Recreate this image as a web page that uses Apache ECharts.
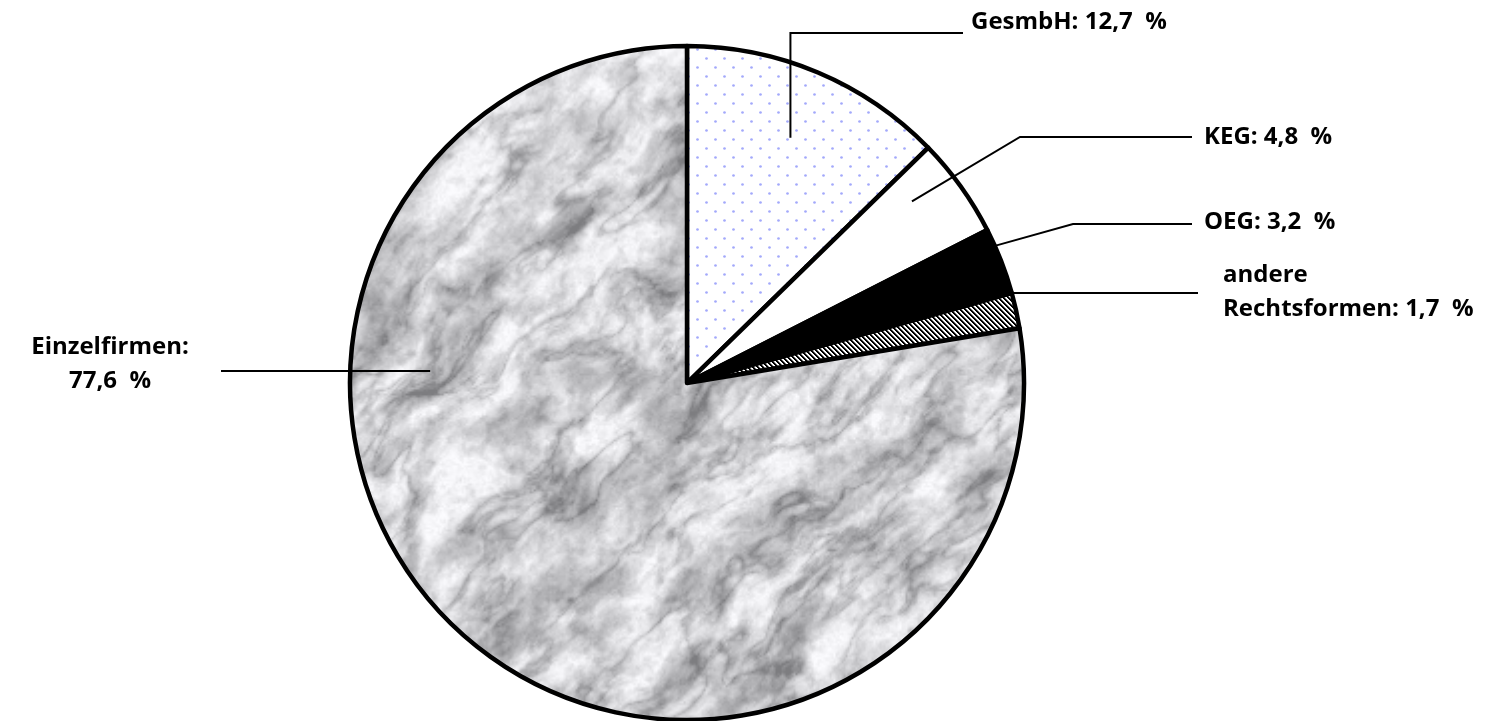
<!DOCTYPE html>
<html>
<head>
<meta charset="utf-8">
<script src="https://cdn.jsdelivr.net/npm/echarts@6/dist/echarts.min.js"></script>
<style>
  html, body { margin: 0; padding: 0; background: #fff; }
  #chart { width: 1499px; height: 721px; }
</style>
</head>
<body>
<div id="chart"></div>
<script>
// Unternehmen nach Rechtsform, Anteile in Prozent
const categories = ['GesmbH', 'KEG', 'OEG', 'andere\nRechtsformen', 'Einzelfirmen'];
const shares = [12.7, 4.8, 3.2, 1.7, 77.6];
const labelSeparators = [' ', ' ', ' ', ' ', '\n'];

// Pie geometry in pixels
const PIE_CENTER = [687, 383];
const PIE_RADIUS = 337;

// Label placement: t = position across the slice (0..1), f = radius fraction of the leader start
const labelPlacement = [
  { anchor: [971, 22], align: 'left', t: 0.5, f: 0.79, path: { type: 'elbow', y: 33, endX: 963 } },
  { anchor: [1204, 137], align: 'left', t: 0.31, f: 0.858, path: { type: 'bend', bend: [1020, 137], endX: 1192 } },
  { anchor: [1204, 222], align: 'left', t: 0.26, f: 1.0, path: { type: 'bend', bend: [1073, 224], endX: 1192 } },
  { anchor: [1223, 292], align: 'left', t: 0.0, f: 1.0, path: { type: 'flat', endX: 1198 } },
  { anchor: [110, 364], align: 'center', t: 0.6875, f: 0.763, path: { type: 'flat', endX: 221 } }
];

// ---------- fill textures ----------
function makeCanvas(w, h) {
  const c = document.createElement('canvas');
  c.width = w; c.height = h;
  return c;
}

function dotTexture() {
  const c = makeCanvas(18, 18);
  const g = c.getContext('2d');
  g.fillStyle = '#ffffff';
  g.fillRect(0, 0, 18, 18);
  g.fillStyle = '#a3a9fb';
  [[4.5, 4.5], [13.5, 13.5]].forEach(function (p) {
    g.beginPath();
    g.arc(p[0], p[1], 1.35, 0, Math.PI * 2);
    g.fill();
  });
  return c;
}

function stripeTexture() {
  const s = 10;
  const c = makeCanvas(s, s);
  const g = c.getContext('2d');
  const img = g.createImageData(s, s);
  for (let y = 0; y < s; y++) {
    for (let x = 0; x < s; x++) {
      const k = ((x - y) % 5 + 5) % 5;
      const v = k < 2 ? 0 : (k === 2 ? 120 : 255);
      const i = (y * s + x) * 4;
      img.data[i] = img.data[i + 1] = img.data[i + 2] = v;
      img.data[i + 3] = 255;
    }
  }
  g.putImageData(img, 0, 0);
  return c;
}

// deterministic value noise for the marble surface
function hash(ix, iy) {
  let h = Math.imul(ix, 374761393) + Math.imul(iy, 668265263);
  h = Math.imul(h ^ (h >>> 13), 1274126177);
  h = h ^ (h >>> 16);
  return (h >>> 0) / 4294967295;
}
function noise(x, y) {
  const ix = Math.floor(x), iy = Math.floor(y);
  const fx = x - ix, fy = y - iy;
  const ux = fx * fx * (3 - 2 * fx), uy = fy * fy * (3 - 2 * fy);
  const a = hash(ix, iy), b = hash(ix + 1, iy);
  const c = hash(ix, iy + 1), d = hash(ix + 1, iy + 1);
  return a + (b - a) * ux + (c - a) * uy + (a - b - c + d) * ux * uy;
}
function fbm(x, y, oct) {
  let sum = 0, amp = 0.5, fr = 1, norm = 0;
  for (let i = 0; i < oct; i++) {
    sum += amp * noise(x * fr + i * 17.1, y * fr + i * 5.3);
    norm += amp; amp *= 0.55; fr *= 2.03;
  }
  return sum / norm;
}

function marbleTexture(W, H) {
  const scale = 2;
  const w = Math.ceil(W / scale), h = Math.ceil(H / scale);
  const small = makeCanvas(w, h);
  const g = small.getContext('2d');
  const img = g.createImageData(w, h);
  for (let y = 0; y < h; y++) {
    for (let x = 0; x < w; x++) {
      const X = x * scale, Y = y * scale;
      const wx = fbm(X / 90, Y / 90, 3);
      const wy = fbm(X / 90 + 7.3, Y / 90 + 2.1, 3);
      const u = X + 40 * (wx - 0.5), v = Y + 40 * (wy - 0.5);
      const p = (u - v) * 0.7071, q = (u + v) * 0.7071;
      // cloudy grey patches, elongated along the diagonal
      const cloud = fbm(p / 60, q / 30, 6);
      // fine mottling
      const mott = fbm(X / 10, Y / 10, 3);
      // soft veins
      const n1 = fbm(p / 110 + 3, q / 40 + 9, 5);
      const r1 = 1 - Math.abs(2 * n1 - 1);
      const speck = noise(X / 2.2, Y / 2.2);
      let gray = 248 - Math.max(0, cloud - 0.37) * 190
        - Math.max(0, mott - 0.48) * 65
        - Math.pow(r1, 10) * 50
        + (speck - 0.5) * 14;
      gray = Math.max(125, Math.min(252, gray));
      const i = (y * w + x) * 4;
      img.data[i] = gray; img.data[i + 1] = gray; img.data[i + 2] = Math.min(255, gray + 3);
      img.data[i + 3] = 255;
    }
  }
  g.putImageData(img, 0, 0);
  const big = makeCanvas(W, H);
  const bg = big.getContext('2d');
  bg.imageSmoothingEnabled = true;
  bg.filter = 'blur(0.6px)';
  bg.drawImage(small, 0, 0, W, H);
  return big;
}

const fills = [
  { image: dotTexture(), repeat: 'repeat' },
  '#ffffff',
  '#000000',
  { image: stripeTexture(), repeat: 'repeat' },
  { image: marbleTexture(1499, 721), repeat: 'repeat' }
];

// ---------- leader lines from slice geometry ----------
const total = shares.reduce(function (a, b) { return a + b; }, 0);
const sliceStart = [];
let acc = 0;
shares.forEach(function (s) { sliceStart.push(acc); acc += s; });

function polar(angleDeg, r) {
  const a = angleDeg * Math.PI / 180;
  return [PIE_CENTER[0] + r * Math.sin(a), PIE_CENTER[1] - r * Math.cos(a)];
}

function leaderPoints(i) {
  const pl = labelPlacement[i];
  const a0 = sliceStart[i] / total * 360;
  const a1 = (sliceStart[i] + shares[i]) / total * 360;
  const start = polar(a0 + (a1 - a0) * pl.t, PIE_RADIUS * pl.f);
  const p = pl.path;
  if (p.type === 'elbow') return [start, [start[0], p.y], [p.endX, p.y]];
  if (p.type === 'bend') return [start, p.bend, [p.endX, p.bend[1]]];
  return [start, [p.endX, start[1]]];
}

const pieBase = {
  type: 'pie',
  center: PIE_CENTER,
  radius: PIE_RADIUS,
  startAngle: 90,
  clockwise: true,
  avoidLabelOverlap: false,
  silent: true,
  emphasis: { disabled: true }
};

const chart = echarts.init(document.getElementById('chart'), null, { renderer: 'canvas' });
chart.setOption({
  animation: false,
  backgroundColor: '#ffffff',
  series: [
    // filled slices
    Object.assign({}, pieBase, {
      z: 2,
      itemStyle: { borderColor: '#000', borderWidth: 4.5 },
      label: { show: false },
      labelLine: { show: false },
      data: categories.map(function (name, i) {
        return { name: name, value: shares[i], itemStyle: { color: fills[i] } };
      })
    }),
    // labels with leader lines reaching into the slices
    Object.assign({}, pieBase, {
      z: 5,
      itemStyle: { color: 'rgba(0,0,0,0)', borderWidth: 0 },
      label: {
        show: true,
        position: 'outside',
        color: '#000',
        fontFamily: 'Open Sans',
        fontWeight: 'bold',
        fontSize: 24,
        lineHeight: 34,
        formatter: function (p) {
          return p.name + ':' + labelSeparators[p.dataIndex] +
            p.value.toFixed(1).replace('.', ',') + '  %';
        }
      },
      labelLine: {
        show: true,
        showAbove: true,
        smooth: false,
        lineStyle: { color: '#000', width: 2 }
      },
      labelLayout: function (params) {
        const pl = labelPlacement[params.dataIndex];
        return {
          x: pl.anchor[0],
          y: pl.anchor[1],
          align: pl.align,
          verticalAlign: 'middle',
          labelLinePoints: leaderPoints(params.dataIndex)
        };
      },
      data: categories.map(function (name, i) {
        return { name: name, value: shares[i] };
      })
    })
  ]
});
</script>
</body>
</html>
